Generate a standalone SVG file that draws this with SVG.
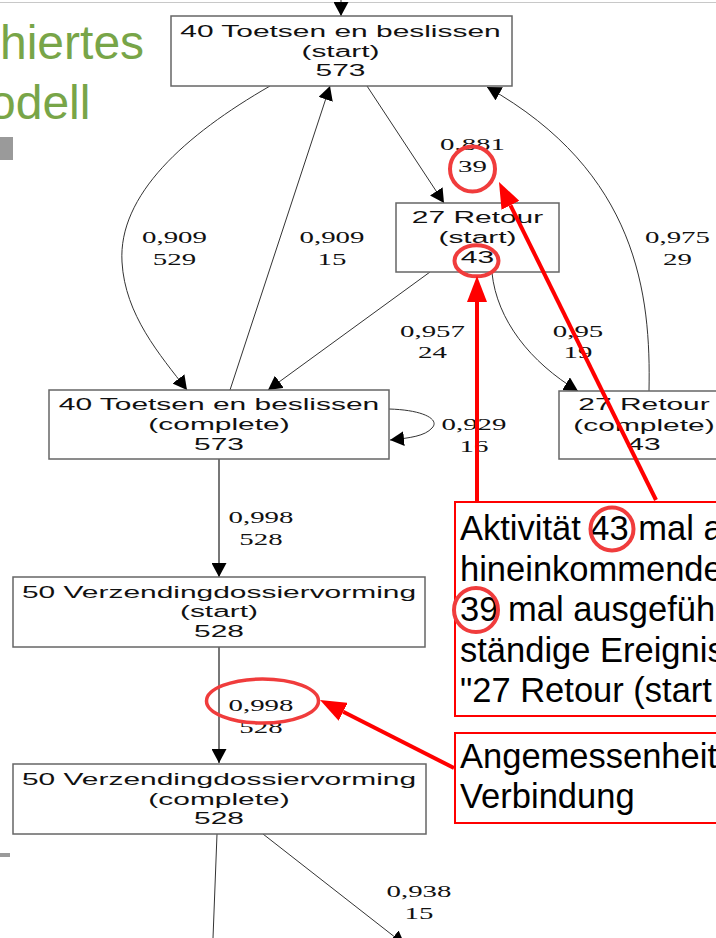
<svg xmlns="http://www.w3.org/2000/svg" width="716" height="938" viewBox="0 0 716 938">
<style>
.bx{fill:#fff;stroke:#666;stroke-width:1.5}
.nt{font-family:"Liberation Sans",Arial,sans-serif;font-size:17px;fill:#111;text-anchor:middle}
.el{font-family:"Liberation Serif","Times New Roman",serif;font-size:17px;fill:#111;text-anchor:middle}
.e{fill:none;stroke:#333;stroke-width:1}
.ev{fill:none;stroke:#777;stroke-width:2}
.rc{fill:none;stroke:#f03c3c;stroke-width:4}
.ra{fill:none;stroke:#f00;stroke-width:4}
.cb{fill:#fff;stroke:#f00;stroke-width:2}
.ct{font-family:"Liberation Sans",Arial,sans-serif;font-size:34.5px;fill:#000}
.ti{font-family:"Liberation Sans",Arial,sans-serif;font-size:48px;fill:#78a548}
</style>
<defs>
<marker id="ah" viewBox="0 0 14 15" refX="14" refY="7.5" markerWidth="14" markerHeight="15" markerUnits="userSpaceOnUse" orient="auto"><path d="M0,0 L14,7.5 L0,15 z" fill="#000"/></marker>
<marker id="rh" viewBox="0 0 26 20" refX="0" refY="10" markerWidth="26" markerHeight="20" markerUnits="userSpaceOnUse" orient="auto"><path d="M0,0 L26,10 L0,20 z" fill="#f00"/></marker>
</defs>
<rect width="716" height="938" fill="#fff"/>
<line x1="0" y1="2.5" x2="716" y2="2.5" stroke="#c8c8c8" stroke-width="1"/>
<g id="title">
<text class="ti" x="0" y="59">hiertes</text>
<text class="ti" x="-11" y="119">odell</text>
<rect x="0" y="137" width="13" height="23" fill="#9a9a9a"/>
<rect x="0" y="853" width="10" height="4" fill="#9a9a9a"/>
</g>
<g id="connectors">
<path class="e" d="M341,0 L341,16" marker-end="url(#ah)"/>
<path class="e" d="M270,86 C185,135 118,195 122,262 C125,315 160,355 187,390" marker-end="url(#ah)"/>
<path class="e" d="M230,390 L330,86" marker-end="url(#ah)"/>
<path class="e" d="M367,86 L444,203" marker-end="url(#ah)"/>
<path class="e" d="M649,391 C651,295 638,172 487,87" marker-end="url(#ah)"/>
<path class="e" d="M430,272 L268,390" marker-end="url(#ah)"/>
<path class="e" d="M492,273 C497,320 530,362 578,391" marker-end="url(#ah)"/>
<path class="e" d="M389,409 C425,410 440,420 432,428 C425,436 410,438 390,440" marker-end="url(#ah)"/>
<path class="ev" d="M219,459 L219,577" marker-end="url(#ah)"/>
<path class="ev" d="M219,647 L219,763" marker-end="url(#ah)"/>
<path class="e" d="M217,834 L213,938"/>
<path class="e" d="M263,834 L405,945" marker-end="url(#ah)"/>
<text class="el" transform="translate(174.5,243) scale(1.7,1)">0,909</text>
<text class="el" transform="translate(174.5,265) scale(1.7,1)">529</text>
<text class="el" transform="translate(332,243) scale(1.7,1)">0,909</text>
<text class="el" transform="translate(332,265) scale(1.7,1)">15</text>
<text class="el" transform="translate(472.5,150) scale(1.7,1)">0,881</text>
<text class="el" transform="translate(472.5,172) scale(1.7,1)">39</text>
<text class="el" transform="translate(677.5,243) scale(1.7,1)">0,975</text>
<text class="el" transform="translate(677.5,265) scale(1.7,1)">29</text>
<text class="el" transform="translate(432.5,337) scale(1.7,1)">0,957</text>
<text class="el" transform="translate(432.5,358) scale(1.7,1)">24</text>
<text class="el" transform="translate(578,337) scale(1.7,1)">0,95</text>
<text class="el" transform="translate(578,358) scale(1.7,1)">19</text>
<text class="el" transform="translate(474,430) scale(1.7,1)">0,929</text>
<text class="el" transform="translate(474,452) scale(1.7,1)">16</text>
<text class="el" transform="translate(261,523) scale(1.7,1)">0,998</text>
<text class="el" transform="translate(261,545) scale(1.7,1)">528</text>
<text class="el" transform="translate(261,711) scale(1.7,1)">0,998</text>
<text class="el" transform="translate(261,733) scale(1.7,1)">528</text>
<text class="el" transform="translate(419,897) scale(1.7,1)">0,938</text>
<text class="el" transform="translate(419,919) scale(1.7,1)">15</text>
</g>
<g id="n1">
<rect class="bx" x="171" y="16" width="341" height="70"/>
<text class="nt" transform="translate(340.5,37) scale(1.76,1)">40 Toetsen en beslissen</text>
<text class="nt" transform="translate(340.5,57) scale(1.76,1)">(start)</text>
<text class="nt" transform="translate(340.5,76) scale(1.76,1)">573</text>
</g>
<g id="n2">
<rect class="bx" x="396" y="203" width="163" height="69"/>
<text class="nt" transform="translate(477.5,223) scale(1.76,1)">27 Retour</text>
<text class="nt" transform="translate(477.5,243) scale(1.76,1)">(start)</text>
<text class="nt" transform="translate(477.5,263) scale(1.76,1)">43</text>
</g>
<g id="n3">
<rect class="bx" x="49" y="390" width="340" height="69"/>
<text class="nt" transform="translate(219,410) scale(1.76,1)">40 Toetsen en beslissen</text>
<text class="nt" transform="translate(219,430) scale(1.76,1)">(complete)</text>
<text class="nt" transform="translate(219,450) scale(1.76,1)">573</text>
</g>
<g id="n4">
<rect class="bx" x="559" y="391" width="172" height="68"/>
<text class="nt" transform="translate(644,410) scale(1.76,1)">27 Retour</text>
<text class="nt" transform="translate(644,431) scale(1.76,1)">(complete)</text>
<text class="nt" transform="translate(644,450) scale(1.76,1)">43</text>
</g>
<g id="n5">
<rect class="bx" x="13" y="577" width="412" height="70"/>
<text class="nt" transform="translate(219,598) scale(1.76,1)">50 Verzendingdossiervorming</text>
<text class="nt" transform="translate(219,617) scale(1.76,1)">(start)</text>
<text class="nt" transform="translate(219,637) scale(1.76,1)">528</text>
</g>
<g id="n6">
<rect class="bx" x="13" y="764" width="413" height="70"/>
<text class="nt" transform="translate(219,785) scale(1.76,1)">50 Verzendingdossiervorming</text>
<text class="nt" transform="translate(219,805) scale(1.76,1)">(complete)</text>
<text class="nt" transform="translate(219,824) scale(1.76,1)">528</text>
</g>
<g id="callout1">
<rect class="cb" x="455" y="502" width="270" height="214"/>
<text class="ct" x="460" y="540">Aktivität 43 mal a</text>
<text class="ct" x="460" y="580.5">hineinkommende</text>
<text class="ct" x="460" y="621">39 mal ausgefüh</text>
<text class="ct" x="460" y="661.5">ständige Ereignis</text>
<text class="ct" x="460" y="702">"27 Retour (start</text>
<circle class="rc" cx="612" cy="529" r="21.5"/>
<circle class="rc" cx="476" cy="610" r="22"/>
</g>
<g id="callout2">
<rect class="cb" x="455" y="733" width="270" height="90"/>
<text class="ct" x="460" y="768">Angemessenheit</text>
<text class="ct" x="460" y="808">Verbindung</text>
</g>
<g id="highlights">
<circle class="rc" cx="472.5" cy="169" r="22.5"/>
<ellipse class="rc" cx="476.5" cy="260.8" rx="22" ry="15.5"/>
<ellipse class="rc" cx="262.5" cy="701" rx="56" ry="22" style="stroke-width:3.5"/>
<path class="ra" d="M477,502 L477,302" marker-end="url(#rh)"/>
<path class="ra" d="M656,500 L510.5,205.3" marker-end="url(#rh)"/>
<path class="ra" d="M454,768 L343.2,711.8" marker-end="url(#rh)"/>
</g>
</svg>
